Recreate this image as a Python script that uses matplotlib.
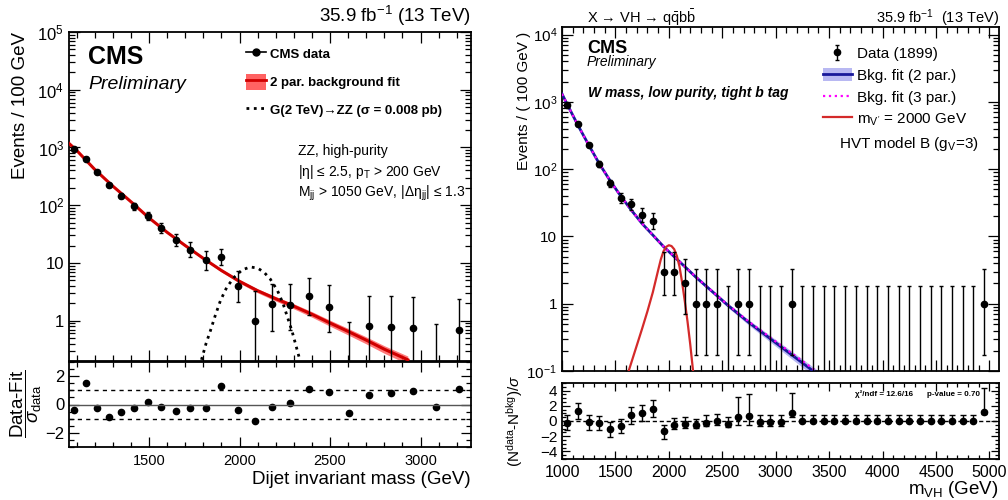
import numpy as np
import matplotlib
matplotlib.use('Agg')
from matplotlib import pyplot as plt
from matplotlib.ticker import LogLocator, MultipleLocator, FuncFormatter, NullFormatter
from matplotlib.lines import Line2D
from matplotlib.patches import Patch

plt.rcParams['font.family'] = ['Liberation Sans', 'DejaVu Sans']
plt.rcParams['mathtext.fontset'] = 'custom'
plt.rcParams['mathtext.rm'] = 'Liberation Sans'
plt.rcParams['mathtext.it'] = 'Liberation Sans:italic'
plt.rcParams['mathtext.bf'] = 'Liberation Sans:bold'
plt.rcParams['mathtext.sf'] = 'Liberation Sans'

# ---- left: dijet ZZ high purity ----
lx = [1088, 1149.5, 1213.5, 1279.5, 1348, 1419, 1492.5, 1568.5, 1647, 1728.5, 1813, 1900.5,
      1991, 2084.5, 2181.5, 2281.5, 2385, 2492, 2602.5, 2717, 2835, 2957, 3083, 3213]
ly = [940, 640, 370, 223, 145, 95, 65, 40.6, 25, 17, 11.2, 12.8,
      4.06, 0.98, 1.95, 1.9, 2.7, 1.75, 0, 0.8, 0.78, 0.75, 0, 0.7]
ly_lo = [900, 608, 346, 205, 131, 84, 56, 33.5, 19.8, 12.6, 7.6, 9.1,
         2.1, 0.15, 0.67, 0.70, 1.25, 0.63, 0.001, 0.14, 0.13, 0.13, 0.001, 0.12]
ly_hi = [980, 672, 394, 241, 160, 107, 76, 49, 32, 23, 15.9, 17.7,
         7.2, 3.3, 4.4, 4.4, 5.4, 4.1, 0.96, 2.7, 2.65, 2.6, 0.88, 2.4]
lpull = [-0.40, 1.52, -0.26, -0.91, -0.54, -0.28, 0.21, -0.16, -0.47, -0.23, -0.26, 1.29,
         -0.42, -1.19, -0.21, 0.14, 1.08, 0.87, -0.58, 0.68, 0.82, 0.96, -0.16, 1.08]

lfit_x = [1058, 1100, 1200, 1300, 1400, 1500, 1600, 1700, 1800, 1900, 2000,
          2100, 2200, 2300, 2400, 2500, 2600, 2700, 2800, 2930]
lfit_y = [1175, 891, 417, 214, 115, 60.3, 33.9, 20.0, 12.0, 7.4, 4.8,
          3.3, 2.4, 1.78, 1.29, 0.91, 0.65, 0.46, 0.32, 0.21]
lfit_band = [0.03, 0.03, 0.03, 0.03, 0.03, 0.035, 0.04, 0.045, 0.05, 0.06, 0.07,
             0.08, 0.09, 0.10, 0.11, 0.12, 0.13, 0.14, 0.15, 0.16]

lsig_x = [1790, 1815, 1840, 1865, 1895, 1930, 1970, 2015, 2060, 2100, 2135, 2170,
          2210, 2240, 2265, 2290, 2310, 2335]
lsig_y = [0.21, 0.40, 0.68, 1.20, 2.24, 3.80, 5.62, 7.59, 8.51, 8.13, 6.92, 5.25,
          3.31, 2.0, 1.15, 0.66, 0.39, 0.20]

# ---- right: X -> VH -> qqbb ----
rx = [1050, 1150, 1250, 1350, 1450, 1550, 1650, 1750, 1850, 1950, 2050, 2150, 2250, 2350,
      2450, 2550, 2650, 2750, 2850, 2950, 3050, 3150, 3250, 3350, 3450, 3550, 3650, 3750,
      3850, 3950, 4050, 4150, 4250, 4350, 4450, 4550, 4650, 4750, 4850, 4950]
ry = [890, 468, 228, 120, 62, 37, 30, 21, 17, 3, 3, 2, 1, 1,
      1, 0, 1, 1, 0, 0, 0, 1, 0, 0, 0, 0, 0, 0,
      0, 0, 0, 0, 0, 0, 0, 0, 0, 0, 0, 1]
ry_lo = [860, 446, 213, 109, 54, 31, 24.6, 16.5, 13, 1.37, 1.37, 0.71, 0.17, 0.17,
         0.17, 0.001, 0.17, 0.17, 0.001, 0.001, 0.001, 0.17, 0.001, 0.001, 0.001, 0.001, 0.001, 0.001,
         0.001, 0.001, 0.001, 0.001, 0.001, 0.001, 0.001, 0.001, 0.001, 0.001, 0.001, 0.17]
ry_hi = [920, 490, 243, 131, 70, 44.1, 36.5, 26.6, 22.2, 5.92, 5.92, 4.64, 3.30, 3.30,
         3.30, 1.84, 3.30, 3.30, 1.84, 1.84, 1.84, 3.30, 1.84, 1.84, 1.84, 1.84, 1.84, 1.84,
         1.84, 1.84, 1.84, 1.84, 1.84, 1.84, 1.84, 1.84, 1.84, 1.84, 1.84, 3.30]
rpull = [-0.22, 1.32, -0.18, -0.31, -1.10, -0.66, 0.75, 1.01, 1.54, -1.32, -0.57, -0.44, -0.53, -0.22,
         -0.04, -0.39, 0.48, 0.61, -0.13, -0.09, -0.09, 1.05, -0.05, -0.05, -0.04, -0.04, -0.04, -0.03,
         -0.03, -0.03, -0.03, -0.03, -0.02, -0.02, -0.02, -0.02, -0.02, -0.02, -0.02, 1.18]
rpull_lo = [-1.14, 0.31, -1.14, -1.23, -2.10, -1.58, -0.35, 0.0, 0.53, -2.32, -1.00, -0.92, -0.88, -0.66,
            -0.57, -0.75, -0.57, -0.57, -0.60, -0.60, -0.60, 0.50, -0.15, -0.15, -0.14, -0.14, -0.14, -0.13,
            -0.13, -0.13, -0.13, -0.13, -0.12, -0.12, -0.12, -0.12, -0.12, -0.12, -0.12, 0.90]
rpull_hi = [0.75, 2.37, 0.75, 0.66, -0.13, 0.22, 1.84, 2.15, 2.72, -0.57, 0.39, 0.53, 0.31, 0.75,
            0.96, 0.55, 3.16, 3.60, 0.75, 0.75, 0.75, 3.75, 0.85, 0.85, 0.85, 0.85, 0.85, 0.85,
            0.85, 0.85, 0.85, 0.85, 0.85, 0.85, 0.85, 0.85, 0.85, 0.85, 0.85, 4.40]

rfit_x = [1000, 1050, 1150, 1250, 1350, 1450, 1550, 1650, 1750, 1850, 1950, 2050, 2150,
          2250, 2350, 2450, 2550, 2650, 2750, 2850, 2950, 3050, 3150, 3250, 3350, 3450]
rfit2_y = [1318, 912, 447, 229, 120, 67.6, 39.8, 24.5, 15.5, 10.5, 7.08, 5.01, 3.55,
           2.51, 1.82, 1.32, 0.955, 0.708, 0.525, 0.398, 0.302, 0.229, 0.174, 0.132, 0.100, 0.076]
rfit3_y = [1318, 912, 447, 229, 120, 67.6, 39.8, 24.5, 15.5, 10.5, 7.08, 5.01, 3.56,
           2.52, 1.83, 1.33, 0.97, 0.725, 0.54, 0.412, 0.315, 0.24, 0.184, 0.141, 0.108, 0.083]
rfit_band = [0.04, 0.03, 0.02, 0.02, 0.02, 0.02, 0.02, 0.025, 0.03, 0.035, 0.04, 0.045, 0.05,
             0.055, 0.06, 0.065, 0.07, 0.08, 0.09, 0.10, 0.11, 0.12, 0.13, 0.14, 0.15, 0.16]

rsig_x = [1600, 1650, 1700, 1750, 1800, 1850, 1900, 1925, 1950, 1975, 2000, 2025, 2050,
          2075, 2100, 2125, 2150, 2175, 2200, 2240]
rsig_y = [0.076, 0.135, 0.24, 0.427, 0.776, 1.48, 3.16, 4.57, 6.03, 7.0, 7.41, 7.2, 6.46,
          5.13, 3.55, 2.04, 1.07, 0.54, 0.251, 0.063]

W, H = 1008.0, 500.0
fig = plt.figure(figsize=(W / 100, H / 100), dpi=100)


def box(l, t, r, b):
    return [l / W, 1 - b / H, (r - l) / W, (b - t) / H]


def px(x, y):
    return x / W, 1 - y / H


def log_label(v, pos):
    e = int(round(np.log10(v)))
    if e == 0:
        return '1'
    if e == 1:
        return '10'
    return r'$10^{%d}$' % e


def root_ticks(ax, size, major=7, minor=3.5):
    ax.tick_params(which='both', direction='in', top=True, right=True, width=0.9,
                   labelsize=size, colors='k')
    ax.tick_params(which='major', length=major)
    ax.tick_params(which='minor', length=minor)
    for s in ax.spines.values():
        s.set_linewidth(1.3)


def log_axis(ax, lo, hi):
    ax.set_yscale('log')
    ax.set_ylim(lo, hi)
    ax.yaxis.set_major_locator(LogLocator(base=10, numticks=12))
    ax.yaxis.set_minor_locator(LogLocator(base=10, subs=np.arange(2, 10), numticks=12))
    ax.yaxis.set_major_formatter(FuncFormatter(log_label))
    ax.yaxis.set_minor_formatter(NullFormatter())


def draw_data(ax, x, y, lo, hi, ms=4.5):
    x, y, lo, hi = map(np.asarray, (x, y, lo, hi))
    nz = y > 0
    cont = ax.errorbar(x[nz], y[nz], yerr=[y[nz] - lo[nz], hi[nz] - y[nz]], fmt='o', color='k',
                       ms=ms, elinewidth=1, capsize=1.5, capthick=1, zorder=5)
    z = ~nz
    ax.errorbar(x[z], hi[z], yerr=[hi[z] - lo[z], np.zeros(z.sum())], fmt='none', ecolor='k',
                elinewidth=1, capsize=1.5, capthick=1, zorder=5)
    return cont


# ================= left panel =================
ax1 = fig.add_axes(box(69, 32, 471, 361))
ax1r = fig.add_axes(box(69, 362, 471, 447), sharex=ax1)

lfx, lfy, lfb = np.array(lfit_x), np.array(lfit_y), np.array(lfit_band)
ax1.fill_between(lfx, lfy * (1 - lfb), lfy * (1 + lfb), color='#ff6262', lw=0, alpha=0.85, zorder=2)
ax1.plot(lfx, lfy, color='#d00000', lw=2.2, zorder=3)
ax1.plot(lsig_x, lsig_y, color='k', ls=':', lw=2, zorder=4)
draw_data(ax1, lx, ly, ly_lo, ly_hi)

log_axis(ax1, 0.2, 1e5)
ax1.set_xlim(1058, 3279)
ax1.xaxis.set_major_locator(MultipleLocator(500))
ax1.xaxis.set_minor_locator(MultipleLocator(100))
root_ticks(ax1, 12, major=8, minor=4)
plt.setp(ax1.get_xticklabels(), visible=False)

h_data = Line2D([], [], color='k', marker='o', ms=5, lw=1.2)
h_fit = (Patch(facecolor='#ff6262', edgecolor='none'), Line2D([], [], color='#d00000', lw=2))
h_sig = Line2D([], [], color='k', ls=':', lw=2)
ax1.legend([h_data, h_fit, h_sig],
           ['CMS data', '2 par. background fit', 'G(2 TeV)\u2192ZZ (\u03c3 = 0.008 pb)'],
           loc='upper left', bbox_to_anchor=(0.44, 0.958), frameon=False,
           prop={'weight': 'bold', 'size': 9.5}, handlelength=1.5, handleheight=1.5,
           handletextpad=0.35, labelspacing=0.9, borderaxespad=0, borderpad=0)

fig.text(*px(88, 64), 'CMS', fontsize=18, weight='bold', va='baseline')
fig.text(*px(88, 89), 'Preliminary', fontsize=14, style='italic', va='baseline')
fig.text(*px(298, 155), 'ZZ, high-purity', fontsize=10, va='baseline')
fig.text(*px(298, 176), '|\u03b7| \u2264 2.5, p$_{\\mathrm{T}}$ > 200 GeV', fontsize=10, va='baseline')
fig.text(*px(298, 197), 'M$_{\\mathrm{jj}}$ > 1050 GeV, |\u0394\u03b7$_{\\mathrm{jj}}$| \u2264 1.3',
         fontsize=10, va='baseline')
fig.text(*px(471, 22), r'35.9 fb$^{-1}$ (13 TeV)', fontsize=13.5, ha='right', va='baseline')
fig.text(*px(21, 32), 'Events / 100 GeV', fontsize=13.5, rotation=90, ha='center', va='top')

ax1r.plot(lx, lpull, 'o', color='k', ms=4.5)
ax1r.axhline(0, color='#555555', lw=1)
ax1r.axhline(1, color='k', lw=1, ls=(0, (3, 3)))
ax1r.axhline(-1, color='k', lw=1, ls=(0, (3, 3)))
ax1r.set_ylim(-3, 3)
ax1r.yaxis.set_major_locator(MultipleLocator(2))
ax1r.yaxis.set_minor_locator(MultipleLocator(0.5))
root_ticks(ax1r, 12, major=7, minor=3.5)
ax1r.tick_params(axis='x', labelsize=10.5, pad=5)
fig.text(*px(26, 404), r'$\dfrac{\mathrm{Data\text{-}Fit}}{\sigma_{\mathrm{data}}}$', fontsize=13.5,
         rotation=90, ha='center', va='center')
fig.text(*px(471, 484), 'Dijet invariant mass (GeV)', fontsize=13.5, ha='right', va='baseline')

# ================= right panel =================
ax2 = fig.add_axes(box(562, 27, 999, 371))
ax2r = fig.add_axes(box(562, 383, 999, 459), sharex=ax2)

rfx, r2y, r3y, rfb = map(np.array, (rfit_x, rfit2_y, rfit3_y, rfit_band))
ax2.fill_between(rfx, r2y * (1 - rfb), r2y * (1 + rfb), color='#b8b8f2', lw=0, zorder=2)
ax2.plot(rfx, r2y, color='#18189a', lw=2, zorder=3)
ax2.plot(rfx, r3y, color='#ff00ff', ls=':', lw=1.6, zorder=3)
ax2.plot(rsig_x, rsig_y, color='#d42a2a', lw=1.6, zorder=4)
h_rdata = draw_data(ax2, rx, ry, ry_lo, ry_hi)

log_axis(ax2, 0.1, 1.3e4)
ax2.set_xlim(1000, 5090)
ax2.xaxis.set_major_locator(MultipleLocator(500))
ax2.xaxis.set_minor_locator(MultipleLocator(100))
root_ticks(ax2, 11, major=8, minor=4)
plt.setp(ax2.get_xticklabels(), visible=False)

h_rfit = (Patch(facecolor='#b8b8f2', edgecolor='none'), Line2D([], [], color='#18189a', lw=2))
h_r3 = Line2D([], [], color='#ff00ff', ls=':', lw=1.6)
h_rsig = Line2D([], [], color='#d42a2a', lw=1.6)
ax2.legend([h_rdata, h_rfit, h_r3, h_rsig],
           ['Data (1899)', 'Bkg. fit (2 par.)', 'Bkg. fit (3 par.)', r"m$_{\mathrm{V'}}$ = 2000 GeV"],
           loc='upper left', bbox_to_anchor=(0.597, 0.944), frameon=False, fontsize=11,
           handlelength=1.9, handleheight=0.95, handletextpad=0.35, labelspacing=0.45,
           borderaxespad=0, borderpad=0)
fig.text(*px(839, 148), r'HVT model B (g$_{\mathrm{V}}$=3)', fontsize=11, va='baseline')

fig.text(*px(587, 53), 'CMS', fontsize=13, weight='bold', va='baseline')
fig.text(*px(587, 66), 'Preliminary', fontsize=10, style='italic', va='baseline')
fig.text(*px(588, 97), 'W mass, low purity, tight b tag', fontsize=10, weight='bold',
         style='italic', va='baseline')
fig.text(*px(587, 23), 'X \u2192 VH \u2192 q$\\bar{\\mathrm{q}}$b$\\bar{\\mathrm{b}}$',
         fontsize=10.5, va='baseline')
fig.text(*px(999, 23), r'35.9 fb$^{-1}$  (13 TeV)', fontsize=10.5, ha='right', va='baseline')
fig.text(*px(524, 32), 'Events / ( 100 GeV )', fontsize=11, rotation=90, ha='center', va='top')

rp, rpl, rph = map(np.array, (rpull, rpull_lo, rpull_hi))
ax2r.errorbar(rx, rp, yerr=[rp - rpl, rph - rp], fmt='o', color='k', ms=4.5,
              elinewidth=1, capsize=2, capthick=1)
ax2r.axhline(0, color='k', lw=1, ls=(0, (3, 2)))
ax2r.set_ylim(-5, 5)
ax2r.yaxis.set_major_locator(MultipleLocator(2))
ax2r.yaxis.set_minor_locator(MultipleLocator(0.5))
root_ticks(ax2r, 11, major=6, minor=3)
ax2r.tick_params(axis='x', labelsize=11.5, pad=4)
fig.text(*px(913, 396), '\u03c7\u00b2/ndf = 12.6/16', fontsize=5.8, weight='bold', ha='right',
         va='baseline')
fig.text(*px(980, 396), 'p-value = 0.70', fontsize=5.8, weight='bold', ha='right', va='baseline')
fig.text(*px(515, 421), r'(N$^{\mathrm{data}}$-N$^{\mathrm{bkg}}$)/$\sigma$', fontsize=11,
         rotation=90, ha='center', va='center')
fig.text(*px(999, 494), r'm$_{\mathrm{VH}}$ (GeV)', fontsize=13.5, ha='right', va='baseline')

fig.savefig('out.png', dpi=100)
